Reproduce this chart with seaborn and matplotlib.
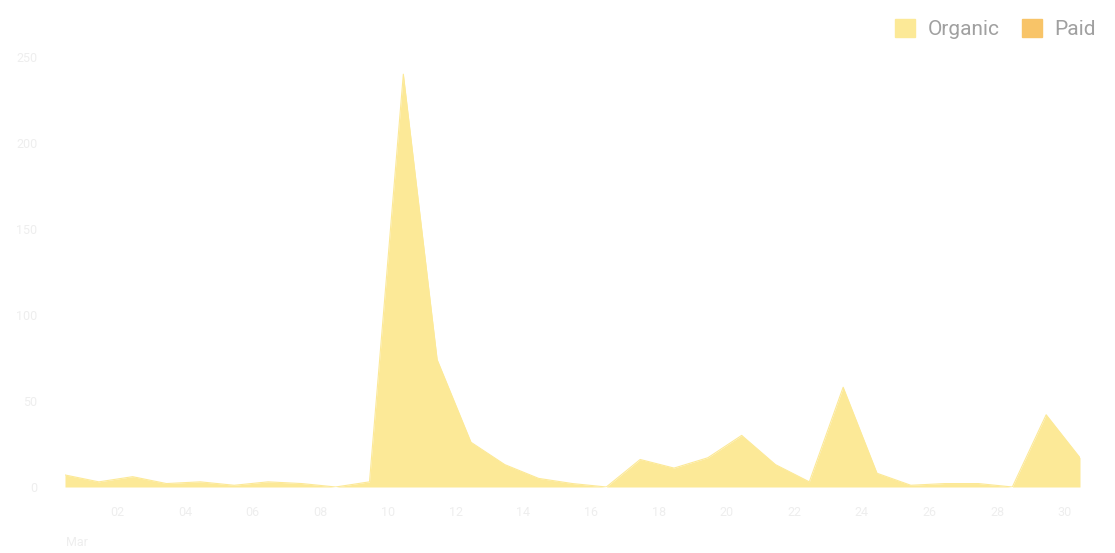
import matplotlib
matplotlib.use("Agg")
import matplotlib.pyplot as plt
import matplotlib.patches as mpatches
import numpy as np
import pandas as pd
import seaborn as sns

# Daily visits for one month (index 0 = 1 Mar)
days = list(range(1, 32))
organic = [7, 3, 6, 2, 3, 1, 3, 2, 0, 3,
           240, 74, 26, 13, 5, 2, 0, 16, 11, 17,
           30, 13, 3, 58, 8, 1, 2, 2, 0, 42, 17]
paid = [0] * 31

y_ticks = [0, 50, 100, 150, 200, 250]
x_tick_days = list(range(2, 31, 2))
x_tick_labels = [f"{d:02d}" for d in x_tick_days]
month_label = "Mar"

organic_color = "#fce997"
paid_color = "#f8c468"
tick_color = "#eeeeee"
legend_text_color = "#a0a0a0"

sns.set_theme(style="white")
plt.rcParams["font.family"] = ["Roboto", "DejaVu Sans"]

df = pd.DataFrame({
    "idx": np.arange(len(days)),
    "Organic": organic,
    "Paid": paid,
})

fig = plt.figure(figsize=(11.15, 5.53), dpi=100)
ax = fig.add_axes([65 / 1115, (553 - 487) / 553, (1080 - 65) / 1115, (487 - 57) / 553])

# stacked areas: organic at the bottom, paid on top
sns.lineplot(data=df, x="idx", y="Organic", ax=ax, color=organic_color, linewidth=0.8)
ax.fill_between(df["idx"], 0, df["Organic"], color=organic_color, linewidth=0)
top = df["Organic"] + df["Paid"]
ax.fill_between(df["idx"], df["Organic"], top, color=paid_color, linewidth=0)

ax.set_xlim(0, len(days) - 1)
ax.set_ylim(0, 250)
ax.set_xlabel("")
ax.set_ylabel("")
for s in ax.spines.values():
    s.set_visible(False)
ax.grid(False)

ax.set_yticks(y_ticks)
ax.set_yticklabels([str(v) for v in y_ticks], color=tick_color, fontsize=9)
ax.tick_params(axis="y", length=0, pad=20)

# x labels sit a little right of their day
ax.set_xticks([d - 1 + 0.55 for d in x_tick_days])
ax.set_xticklabels(x_tick_labels, color=tick_color, fontsize=9)
ax.tick_params(axis="x", length=0, pad=14)
ax.text(0.35, -0.13, month_label, transform=ax.get_xaxis_transform(),
        ha="center", va="center", color=tick_color, fontsize=9)

handles = [mpatches.Patch(color=organic_color, label="Organic"),
           mpatches.Patch(color=paid_color, label="Paid")]
leg = fig.legend(handles=handles, loc="upper right", bbox_to_anchor=(1.0, 1.0),
                 ncol=2, frameon=False, fontsize=15, handlelength=0.95, handleheight=0.95,
                 handletextpad=0.6, columnspacing=1.1)
for t in leg.get_texts():
    t.set_color(legend_text_color)

fig.savefig("out.png", dpi=100, facecolor="white")
